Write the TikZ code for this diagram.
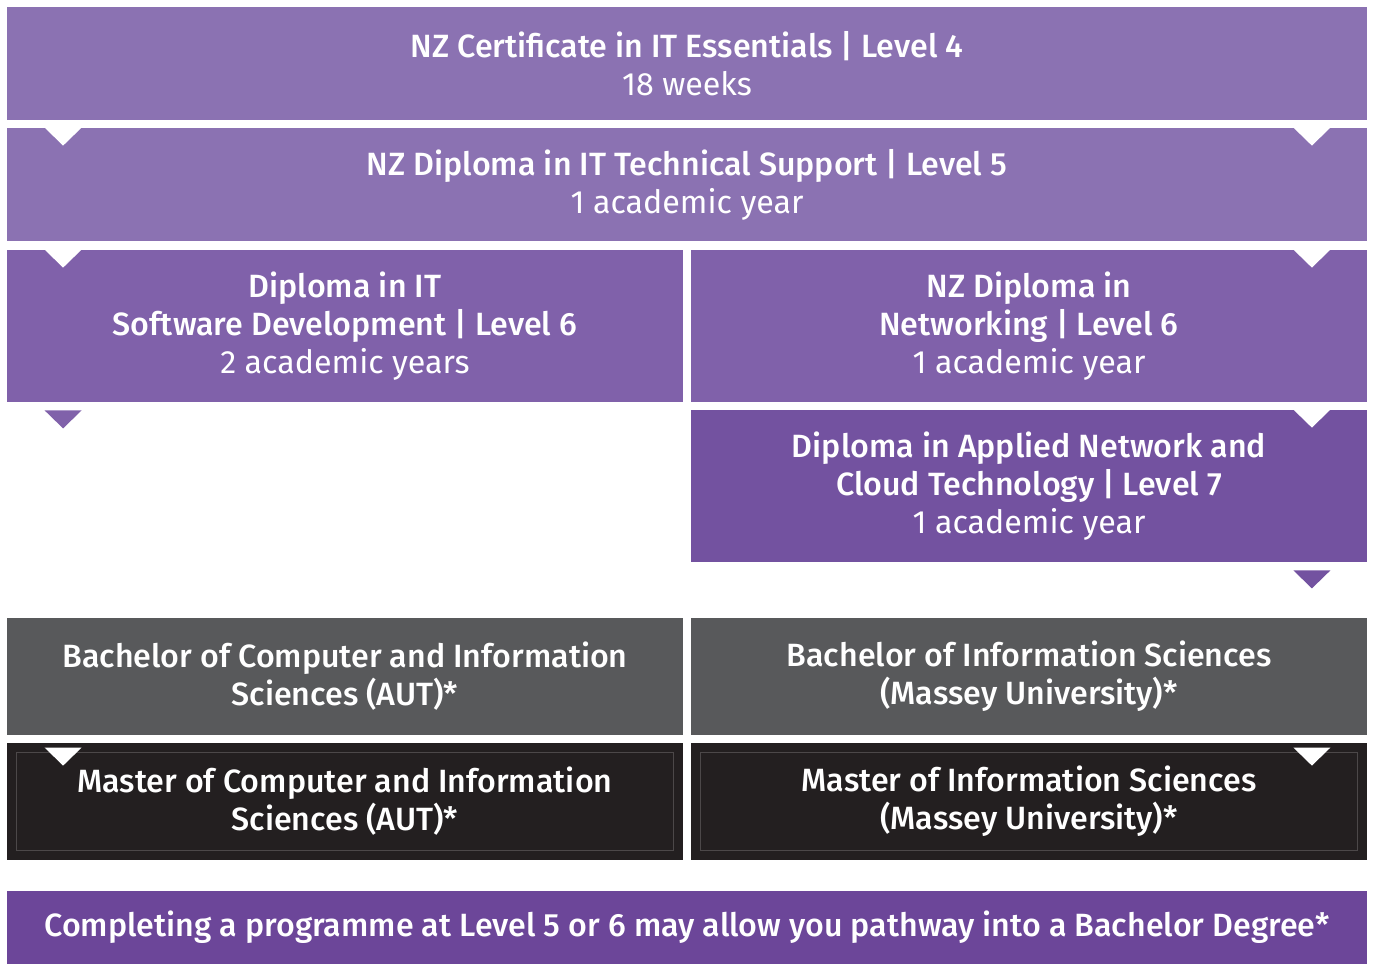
\documentclass[tikz,border=0pt]{standalone}
\usepackage{fontspec}
\setmainfont{Fira Sans}[BoldFont={Fira Sans Medium}]
\usepackage{xcolor}
\usetikzlibrary{calc}

\definecolor{lightpurple}{HTML}{8B72B2}
\definecolor{midpurple}{HTML}{8061AA}
\definecolor{deeppurple}{HTML}{7352A0}
\definecolor{notepurple}{HTML}{6C4699}
\definecolor{degreegray}{HTML}{58595B}
\definecolor{masterblack}{HTML}{231F20}
\definecolor{framegray}{HTML}{4C4849}

\tikzset{
    stage/.style={rectangle, inner sep=0pt, text=white, align=center,
        font=\fontsize{16.1}{19}\selectfont},
    wide/.style={stage, minimum width=680pt, minimum height=56.5pt},
    half/.style={stage, minimum width=338pt, minimum height=76pt},
    degree/.style={stage, minimum width=338pt, minimum height=58.5pt},
}
\newcommand{\ttl}[1]{\textbf{#1}}

\begin{document}
\begin{tikzpicture}[x=0.5pt,y=-0.5pt]

    \useasboundingbox (0,0) rectangle (1376,964);

    \node[wide, fill=lightpurple] (cert) at (687,63.5)
        {\ttl{NZ Certificate in IT Essentials | Level 4}\\18 weeks};
    \node[wide, fill=lightpurple] (techsup) at (687,184.5)
        {\ttl{NZ Diploma in IT Technical Support | Level 5}\\1 academic year};
    \node[half, fill=midpurple] (softdev) at (345,326)
        {\ttl{Diploma in IT}\\\ttl{Software Development | Level 6}\\2 academic years};
    \node[half, fill=midpurple] (netw) at (1029,326)
        {\ttl{NZ Diploma in}\\\ttl{Networking | Level 6}\\1 academic year};
    \node[half, fill=deeppurple] (cloud) at (1029,486)
        {\ttl{Diploma in Applied Network and}\\\ttl{Cloud Technology | Level 7}\\1 academic year};
    \node[degree, fill=degreegray] (bcis) at (345,676.5)
        {\ttl{Bachelor of Computer and Information}\\\ttl{Sciences (AUT)*}};
    \node[degree, fill=degreegray] (bis) at (1029,676.5)
        {\ttl{Bachelor of Information Sciences}\\\ttl{(Massey University)*}};
    \node[degree, fill=masterblack] (mcis) at (345,801.5)
        {\ttl{Master of Computer and Information}\\\ttl{Sciences (AUT)*}};
    \node[degree, fill=masterblack] (mis) at (1029,801.5)
        {\ttl{Master of Information Sciences}\\\ttl{(Massey University)*}};
    \node[wide, fill=notepurple, minimum height=36.5pt] (note) at (687,927.5)
        {\ttl{Completing a programme at Level 5 or 6 may allow you pathway into a Bachelor Degree*}};

    % inner frames of the master boxes
    \draw[framegray, line width=0.4pt] ($(mcis.north west)+(10,10)$) rectangle ($(mcis.south east)+(-10,-10)$);
    \draw[framegray, line width=0.4pt] ($(mis.north west)+(10,10)$) rectangle ($(mis.south east)+(-10,-10)$);

    % white notches
    \fill[white] ($(techsup.north west)+(38,0)$) -- ++(37,0) -- ++(-18.5,18) -- cycle;
    \fill[white] ($(techsup.north east)+(-74,0)$) -- ++(37,0) -- ++(-18.5,18) -- cycle;
    \fill[white] ($(softdev.north west)+(38,0)$) -- ++(37,0) -- ++(-18.5,18) -- cycle;
    \fill[white] ($(netw.north east)+(-74,0)$) -- ++(37,0) -- ++(-18.5,18) -- cycle;
    \fill[white] ($(cloud.north east)+(-74,0)$) -- ++(37,0) -- ++(-18.5,18) -- cycle;
    \fill[white] ($(mcis.north west)+(38,5)$) -- ++(37,0) -- ++(-18.5,18) -- cycle;
    \fill[white] ($(mis.north east)+(-74,5)$) -- ++(37,0) -- ++(-18.5,18) -- cycle;

    % purple pointers
    \fill[midpurple] ($(softdev.south west)+(38,8)$) -- ++(37,0) -- ++(-18.5,18) -- cycle;
    \fill[deeppurple] ($(cloud.south east)+(-74,8)$) -- ++(37,0) -- ++(-18.5,18) -- cycle;

\end{tikzpicture}
\end{document}
